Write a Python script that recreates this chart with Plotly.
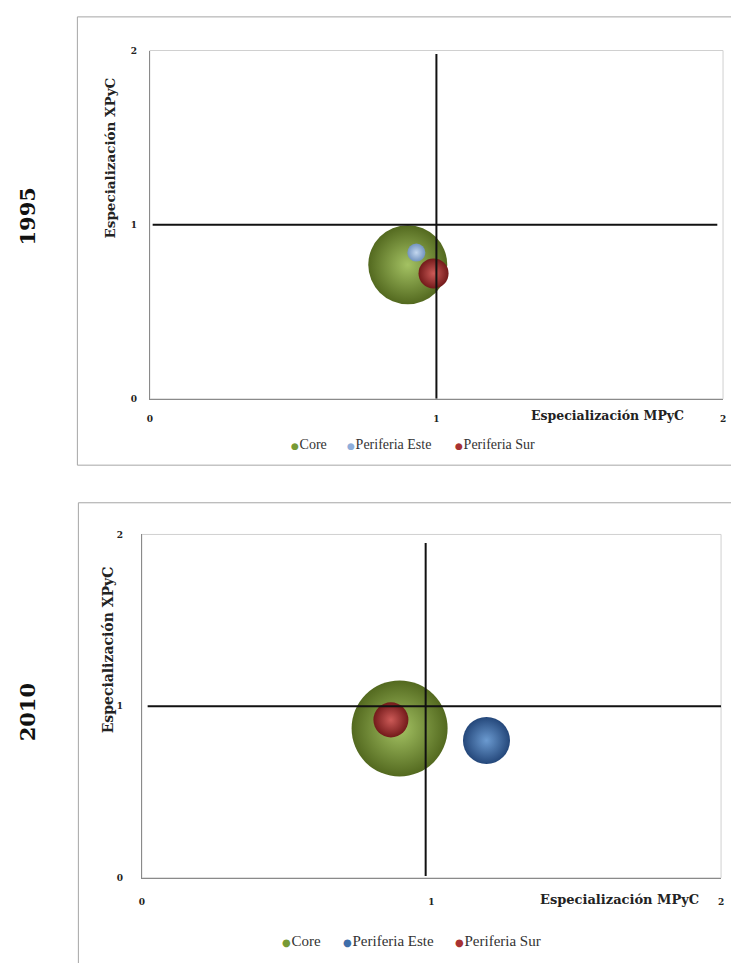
import plotly.graph_objects as go

W, H = 731, 963

regiones = ["Core", "Periferia Este", "Periferia Sur"]

# Especialización MPyC (eje x), XPyC (eje y) y peso relativo de cada región
mpyc_1995 = [0.90, 0.93, 0.99]
xpyc_1995 = [0.77, 0.84, 0.72]
peso_1995 = [0.836, 0.043, 0.121]

mpyc_2010 = [0.89, 1.19, 0.86]
xpyc_2010 = [0.87, 0.80, 0.92]
peso_2010 = [0.729, 0.175, 0.097]

# Líneas de referencia en el valor 1 de cada índice
ref_h_1995_x = [0.01, 1.98]
ref_h_1995_y = [1.0, 1.0]
ref_v_1995_x = [1.0, 1.0]
ref_v_1995_y = [0.0, 1.98]

ref_h_2010_x = [0.02, 2.0]
ref_h_2010_y = [1.0, 1.0]
ref_v_2010_x = [0.98, 0.98]
ref_v_2010_y = [0.01, 1.95]

ticks = [0, 1, 2]
tick_text = ["0", "1", "2"]

# colores (centro claro, borde oscuro) para el efecto esfera
colores_1995 = [("#a4c263", "#53691f"), ("#c3d7ef", "#7394c0"), ("#cc5a57", "#731a1a")]
colores_2010 = [("#a4c263", "#53691f"), ("#6b9ad0", "#24477a"), ("#cc5a57", "#731a1a")]
legend_dot_1995 = ["#779a35", "#8eaedb", "#a83232"]
legend_dot_2010 = ["#779a35", "#3f6eaa", "#a83232"]

SERIF = "DejaVu Serif"
LEG_FONT = "Liberation Serif"


def px_x(p):
    return p / W


def px_y(p):
    return 1 - p / H


fig = go.Figure()


def add_panel(xs, ys, pesos, colores, xa, ya, d_max):
    sizeref = 2 * max(pesos) / d_max ** 2
    for nombre, x, y, w, (centro, borde) in zip(regiones, xs, ys, pesos, colores):
        fig.add_trace(go.Scatter(
            x=[x], y=[y], mode="markers", name=nombre,
            xaxis=xa, yaxis=ya, showlegend=False, cliponaxis=False,
            marker=dict(size=[w], sizemode="area", sizeref=sizeref, opacity=1,
                        color=borde, gradient=dict(type="radial", color=centro),
                        line=dict(width=0)),
            hovertemplate=nombre + "<br>MPyC %{x:.2f}<br>XPyC %{y:.2f}<extra></extra>",
        ))


add_panel(mpyc_1995, xpyc_1995, peso_1995, colores_1995, "x", "y", 79)
add_panel(mpyc_2010, xpyc_2010, peso_2010, colores_2010, "x2", "y2", 96)

axis_common = dict(
    range=[0, 2], tickvals=ticks, ticktext=tick_text, showgrid=False, zeroline=False,
    showline=True, linecolor="#8a8a8a", linewidth=1, ticks="",
    tickfont=dict(family=SERIF, size=9, color="#222", weight="bold"),
    fixedrange=True,
)

fig.update_layout(
    width=W, height=H, margin=dict(l=0, r=0, t=0, b=0),
    paper_bgcolor="white", plot_bgcolor="white", showlegend=False,
    xaxis=dict(axis_common, domain=[px_x(148), px_x(726)], anchor="y", ticklabelstandoff=11),
    yaxis=dict(axis_common, domain=[px_y(398), px_y(46)], anchor="x", ticklabelstandoff=10),
    xaxis2=dict(axis_common, domain=[px_x(140), px_x(724)], anchor="y2", ticklabelstandoff=15),
    yaxis2=dict(axis_common, domain=[px_y(882), px_y(535)], anchor="x2", ticklabelstandoff=16),
)

shapes = []
# marcos de cada gráfico
shapes.append(dict(type="rect", xref="paper", yref="paper", x0=px_x(75), x1=1.02,
                   y0=px_y(465), y1=px_y(12), line=dict(color="#a6a6a6", width=1), layer="below"))
shapes.append(dict(type="rect", xref="paper", yref="paper", x0=px_x(76), x1=1.02,
                   y0=-0.02, y1=px_y(503), line=dict(color="#a6a6a6", width=1), layer="below"))
# borde del área de trazado
for xr, yr in (("x", "y"), ("x2", "y2")):
    shapes.append(dict(type="rect", xref=f"{xr} domain", yref=f"{yr} domain", x0=0, x1=1, y0=0, y1=1,
                       line=dict(color="#d0d0d0", width=1), layer="below"))
# líneas de referencia
for xs, ys, xr, yr in ((ref_h_1995_x, ref_h_1995_y, "x", "y"), (ref_v_1995_x, ref_v_1995_y, "x", "y"),
                       (ref_h_2010_x, ref_h_2010_y, "x2", "y2"), (ref_v_2010_x, ref_v_2010_y, "x2", "y2")):
    shapes.append(dict(type="line", xref=xr, yref=yr, x0=xs[0], x1=xs[1], y0=ys[0], y1=ys[1],
                       line=dict(color="#111", width=2), layer="above"))
fig.update_layout(shapes=shapes)

title_font = dict(family=SERIF, size=12.5, color="#222", weight="bold")
annotations = [
    dict(text="Especialización MPyC", x=px_x(609), y=px_y(415), font=title_font),
    dict(text="Especialización XPyC", x=px_x(108), y=px_y(155), textangle=-90,
         font=dict(title_font, size=13.5)),
    dict(text="Especialización MPyC", x=px_x(622), y=px_y(904), font=dict(title_font, size=13)),
    dict(text="Especialización XPyC", x=px_x(106), y=px_y(652), textangle=-90,
         font=dict(title_font, size=14)),
    dict(text="1995", x=px_x(25), y=px_y(214), textangle=-90,
         font=dict(family=SERIF, size=21, color="#111", weight="bold")),
    dict(text="2010", x=px_x(25), y=px_y(715), textangle=-90,
         font=dict(family=SERIF, size=21, color="#111", weight="bold")),
]


# leyendas: punto de color + nombre de la región
def legend_items(dot_colors, x_left, y_center, size):
    items = []
    for nombre, col, xl in zip(regiones, dot_colors, x_left):
        items.append(dict(
            text=(f'<span style="font-family:DejaVu Sans;font-size:{size - 5}px;color:{col}">●</span>'
                  f'<span style="font-size:3px"> </span>{nombre}'),
            x=px_x(xl), y=px_y(y_center), xanchor="left",
            font=dict(family=LEG_FONT, size=size, color="#333"),
        ))
    return items


annotations += legend_items(legend_dot_1995, [288, 345, 454], 444, 14)
annotations += legend_items(legend_dot_2010, [279, 341, 454], 946, 15)

for a in annotations:
    a.setdefault("xanchor", "center")
    a.update(xref="paper", yref="paper", showarrow=False, yanchor="middle")
fig.update_layout(annotations=annotations)

fig.write_html("out.html")
